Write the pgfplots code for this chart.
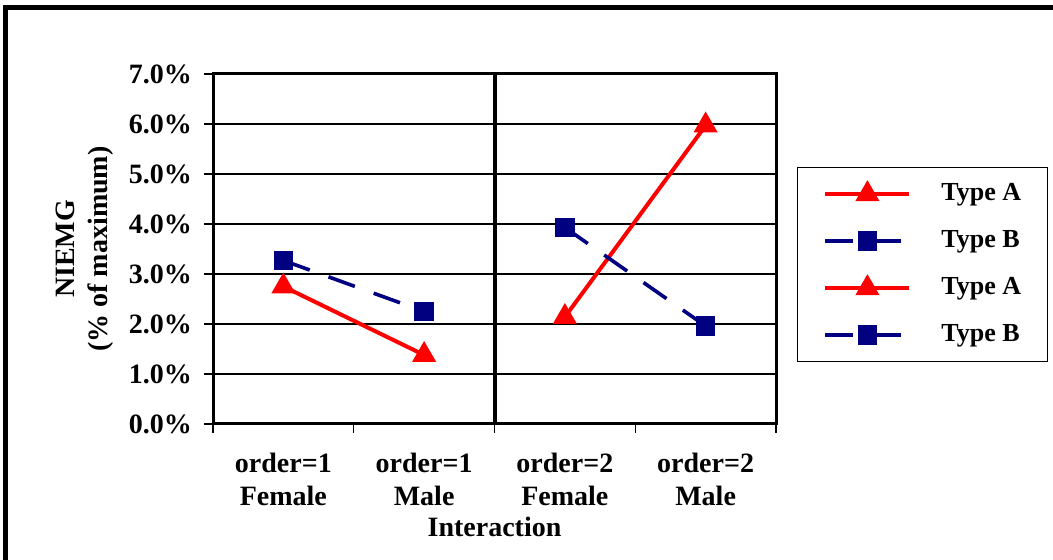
\documentclass[border=0pt]{standalone}
\usepackage{fontspec}
\setmainfont{Liberation Serif}
\usepackage{pgfplots}
\pgfplotsset{compat=1.18}
\definecolor{typeA}{RGB}{255,0,0}
\definecolor{typeB}{RGB}{0,0,128}

\begin{document}
\begin{tikzpicture}
\useasboundingbox (0pt,0pt) rectangle (526.5pt,280pt);
% outer chart frame, cut off on the right and bottom
\begin{scope}
  \clip (0pt,0pt) rectangle (526.5pt,280pt);
  \draw[line width=2.5pt] (2.5pt,-10pt) -- (2.5pt,276pt) -- (540pt,276pt);
\end{scope}
\begin{axis}[
    at={(106.5pt,68pt)}, anchor=south west,
    scale only axis, width=281.5pt, height=175pt,
    xmin=0, xmax=4, ymin=0, ymax=7,
    axis line style={line width=1.5pt},
    font=\bfseries\fontsize{14}{16.5}\selectfont,
    % category labels sit between the tick marks
    xtick={0.5,1.5,2.5,3.5},
    xticklabels={{order=1\\Female},{order=1\\Male},{order=2\\Female},{order=2\\Male}},
    xticklabel style={align=center, yshift=-11pt,
      font=\bfseries\fontsize{14}{16.5}\selectfont},
    minor xtick={0,1,2,3,4},
    ytick={0,1,2,3,4,5,6,7},
    yticklabels={0.0\%,1.0\%,2.0\%,3.0\%,4.0\%,5.0\%,6.0\%,7.0\%},
    yticklabel style={font=\bfseries\fontsize{14}{15}\selectfont, xshift=-7pt},
    minor ytick={0,1,2,3,4,5,6,7},
    major tick length=0pt, minor tick length=4.5pt,
    tick align=outside, xtick pos=bottom, ytick pos=left,
    tick style={black, line width=0.6pt},
    ymajorgrids, grid style={black, line width=0.6pt},
    xlabel={Interaction},
    xlabel style={at={(axis description cs:0.5,-0.294)}, anchor=center},
    ylabel={NIEMG\\(\% of maximum)},
    ylabel style={align=center, at={(axis description cs:-0.227,0.5)}, anchor=center},
    legend style={at={(1.037,0.734)}, anchor=north west,
      draw=black, line width=0.6pt, inner xsep=13pt, inner ysep=7pt,
      font=\bfseries\fontsize{13}{16}\selectfont,
      nodes={inner sep=0pt, text height=9.5pt, text depth=3pt},
      row sep=11pt,
      /tikz/every odd column/.append style={column sep=15pt}},
    legend cell align=left,
    legend image code/.code={
      \draw[mark repeat=2,mark phase=2] plot coordinates {(0pt,0pt) (21pt,0pt) (42pt,0pt)};
    },
  ]
  \addplot[typeA, line width=2pt, mark=triangle*, mark size=5pt,
    mark options={solid}] coordinates {(0.5,2.75) (1.5,1.38)};
  \addlegendentry{Type A}
  \addplot[typeB, line width=1.8pt, dash pattern=on 14pt off 10pt,
    mark=square*, mark size=4pt, mark options={solid}] coordinates {(0.5,3.27) (1.5,2.25)};
  \addlegendentry{Type B}
  \addplot[typeA, line width=2pt, mark=triangle*, mark size=5pt,
    mark options={solid}] coordinates {(2.5,2.14) (3.5,5.97)};
  \addlegendentry{Type A}
  \addplot[typeB, line width=1.8pt, dash pattern=on 14pt off 10pt,
    mark=square*, mark size=4pt, mark options={solid}] coordinates {(2.5,3.93) (3.5,1.96)};
  \addlegendentry{Type B}
  % divider between the two orders
  \draw[line width=2pt] (axis cs:2,-0.26) -- (axis cs:2,7.2);
\end{axis}
\end{tikzpicture}
\end{document}
